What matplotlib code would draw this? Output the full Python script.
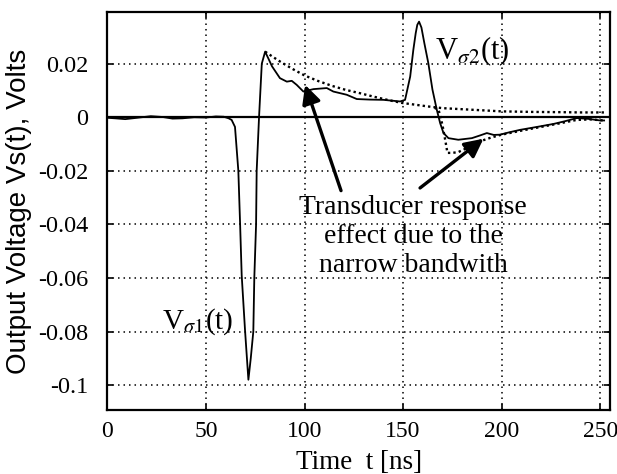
import matplotlib
matplotlib.use("Agg")
import matplotlib.pyplot as plt

# ---- data ----
t_meas = [0, 4, 9, 15, 22, 28, 33, 38, 44, 50, 55, 59, 61.5, 63.0, 64.7, 66.4, 67.3, 68.1,
          69.8, 71.5, 72.7, 74.0, 74.5, 75.4, 75.7, 76.9, 78.3, 80.0, 83.5, 87.5, 91.0,
          93.5, 96.0, 99.4, 104.5, 111.3, 114.6, 121.4, 126.5, 133, 140, 148.5, 151.0,
          153.6, 155.2, 156.4, 157.2, 158.1, 159.3, 160.8, 162.8, 164.9, 167.1, 168.8,
          170.5, 173.0, 178.0, 184.9, 189.0, 192.5, 196.0, 199.2, 204, 209.4, 218,
          226.3, 232, 238.2, 244, 250, 252]
v_meas = [-0.0002, -0.0004, -0.0007, -0.0002, 0.0004, 0.0001, -0.0005, -0.0004, 0.0,
          -0.0001, 0.0003, 0.0002, -0.0004, -0.001, -0.0036, -0.020, -0.040, -0.059,
          -0.0796, -0.098, -0.090, -0.080, -0.060, -0.040, -0.020, 0.0, 0.020, 0.0245,
          0.019, 0.0146, 0.0133, 0.0136, 0.0121, 0.0096, 0.0105, 0.0109, 0.0096, 0.0084,
          0.0068, 0.0066, 0.0065, 0.0059, 0.0065, 0.0152, 0.0252, 0.0314, 0.0345,
          0.0357, 0.0335, 0.0276, 0.0202, 0.0103, 0.0028, -0.0022, -0.0059, -0.0078,
          -0.0084, -0.0078, -0.0068, -0.0059, -0.0066, -0.0065, -0.0056, -0.0047,
          -0.0036, -0.0025, -0.0015, -0.0003, -0.0006, -0.0012, -0.0012]

t_model1 = [80, 84, 88, 94, 100, 107, 114, 121, 128, 135, 142, 149, 156, 163, 170,
            180, 190, 200, 215, 230, 240, 252]
v_model1 = [0.0245, 0.0225, 0.0206, 0.018, 0.0156, 0.0135, 0.0117, 0.0102, 0.009,
            0.0077, 0.0065, 0.0054, 0.0047, 0.004, 0.0034, 0.003, 0.0026, 0.0022,
            0.002, 0.0019, 0.0018, 0.0018]

t_model2 = [166, 168, 170, 171.5, 172.5, 175, 178, 183, 189, 195, 200, 210, 220, 230,
            238, 245, 252]
v_model2 = [0.0035, 0.0028, -0.003, -0.009, -0.0133, -0.0133, -0.013, -0.0113, -0.009,
            -0.0075, -0.0065, -0.005, -0.0036, -0.0022, -0.001, -0.0008, -0.0012]

x_ticks = [0, 50, 100, 150, 200, 250]
y_ticks = [0.02, 0, -0.02, -0.04, -0.06, -0.08, -0.1]
y_ticklabels = ["0.02", "0", "-0.02", "-0.04", "-0.06", "-0.08", "-0.1"]

plt.rcParams['mathtext.fontset'] = 'stix'
serif = 'Liberation Serif'

fig = plt.figure(figsize=(6.17, 4.74), dpi=100)
ax = fig.add_axes([0.1742, 0.135, 0.8145, 0.8397])

ax.plot(t_meas, v_meas, color='black', lw=1.3, zorder=3)
ax.plot(t_model1, v_model1, color='black', lw=1.7, linestyle=(0, (1, 1.3)), zorder=3)
ax.plot(t_model2, v_model2, color='black', lw=1.7, linestyle=(0, (1, 1.3)), zorder=3)
ax.axhline(0, color='black', lw=1.6, zorder=2)

ax.set_xlim(0, 255)
ax.set_ylim(-0.1093, 0.0393)
ax.set_xticks(x_ticks)
ax.set_yticks(y_ticks)
ax.set_yticklabels(y_ticklabels)
ax.grid(True, color='black', lw=1.1, linestyle=(0, (1, 2.6)))
ax.tick_params(direction='in', top=True, right=True, length=4, width=1.2)
ax.tick_params(axis='x', pad=8, labelsize=17)
ax.tick_params(axis='y', pad=14, labelsize=17.5)
for lab in ax.get_xticklabels() + ax.get_yticklabels():
    lab.set_family(serif)
for s in ax.spines.values():
    s.set_linewidth(1.6)

ax.set_xlabel('Time  t [ns]', family=serif, fontsize=19.5, labelpad=6)
ax.set_ylabel('Output Voltage Vs(t), Volts', family='Liberation Sans', fontsize=20,
              labelpad=4)

ax.text(27.5, -0.0790, r'V$_{\sigma 1}$(t)', family=serif, fontsize=21,
        ha='left', va='baseline', zorder=4)
ax.text(166.2, 0.0216, r'V$_{\sigma 2}$(t)', family=serif, fontsize=22,
        ha='left', va='baseline', zorder=4)
ax.text(155, -0.0445, 'Transducer response\neffect due to the\nnarrow bandwith',
        family=serif, fontsize=20, ha='center', va='center', multialignment='center',
        linespacing=1.2, zorder=4)

arrow = dict(arrowstyle='-|>', color='black', lw=2.4, mutation_scale=28,
             shrinkA=0, shrinkB=0)
ax.annotate('', xy=(100.3, 0.0121), xytext=(118.5, -0.0274), arrowprops=arrow, zorder=5)
ax.annotate('', xy=(190.8, -0.0080), xytext=(158.6, -0.0264), arrowprops=arrow, zorder=5)

fig.savefig('out.png', dpi=100)
